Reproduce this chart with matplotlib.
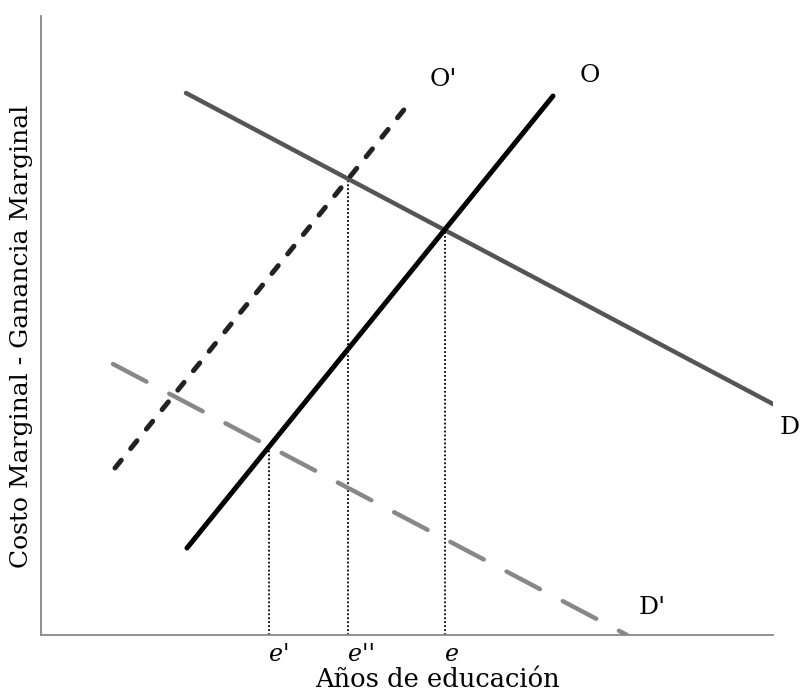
import numpy as np
import matplotlib
matplotlib.use("Agg")
import matplotlib.pyplot as plt

# curve endpoints (x = years of education, y = cost / gain), arbitrary units
curves = ["D", "O", "O'", "D'"]
x_start = [145, 146, 74, 72]
x_end = [732, 512, 366, 586]
y_start = [542, 87, 167, 271]
y_end = [231, 539, 529, 0]

# which curve pairs define the marked equilibria
pairs = [("O", "D'"), ("O'", "D"), ("O", "D")]
tick_labels = ["e'", "e''", "e"]

plt.rcParams['font.family'] = ['DejaVu Serif', 'Liberation Serif']

fig = plt.figure(figsize=(8.01, 6.92), dpi=100)
ax = fig.add_axes([41/801, 1 - 635/692, 732/801, 619/692])
ax.set_xlim(0, 732)
ax.set_ylim(0, 619)

styles = {
    "D": dict(color="#555555", lw=3.2, ls="-"),
    "O": dict(color="black", lw=3.6, ls="-"),
    "O'": dict(color="#222222", lw=3.6, ls=(0, (2.0, 3.0))),
    "D'": dict(color="#888888", lw=3.2, ls=(0, (8.5, 5.8))),
}

lines = {}
for name, x0, x1, y0, y1 in zip(curves, x_start, x_end, y_start, y_end):
    lines[name] = (x0, y0, x1, y1)
    st = styles[name]
    ax.plot([x0, x1], [y0, y1], color=st["color"], lw=st["lw"], ls=st["ls"],
            solid_capstyle="round", dash_capstyle="round", zorder=3)

def intersect(a, b):
    x0, y0, x1, y1 = lines[a]
    u0, v0, u1, v1 = lines[b]
    m1 = (y1 - y0) / (x1 - x0)
    m2 = (v1 - v0) / (u1 - u0)
    x = (v0 - y0 + m1 * x0 - m2 * u0) / (m1 - m2)
    return x, y0 + m1 * (x - x0)

ticks = []
for a, b in pairs:
    x, y = intersect(a, b)
    ax.plot([x, x], [0, y], color="black", lw=1.3, ls=(0, (1, 1.2)), zorder=2)
    ticks.append(x)

ax.set_xticks(ticks)
ax.set_xticklabels(tick_labels, fontsize=17, style="italic", ha="left")
ax.tick_params(axis="x", length=0, pad=6)
ax.set_yticks([])

# curve labels
ax.text(402, 556, "O'", fontsize=18, ha="center", va="center")
ax.text(549, 560, "O", fontsize=18, ha="center", va="center")
ax.text(749, 207, "D", fontsize=18, ha="center", va="center")
ax.text(611, 28, "D'", fontsize=18, ha="center", va="center")

ax.set_xlabel("Años de educación", fontsize=18.5)
ax.xaxis.label.set_va("baseline")
ax.xaxis.set_label_coords(0.542, -(687 - 635) / 619)
ax.set_ylabel("Costo Marginal - Ganancia Marginal", fontsize=18)
ax.yaxis.label.set_va("baseline")
ax.yaxis.set_label_coords((28 - 41) / 732, (635 - 336) / 619)

for side in ["top", "right"]:
    ax.spines[side].set_visible(False)
for side in ["left", "bottom"]:
    ax.spines[side].set_color("#888888")
    ax.spines[side].set_linewidth(1.3)

fig.savefig("out.png", dpi=100)
